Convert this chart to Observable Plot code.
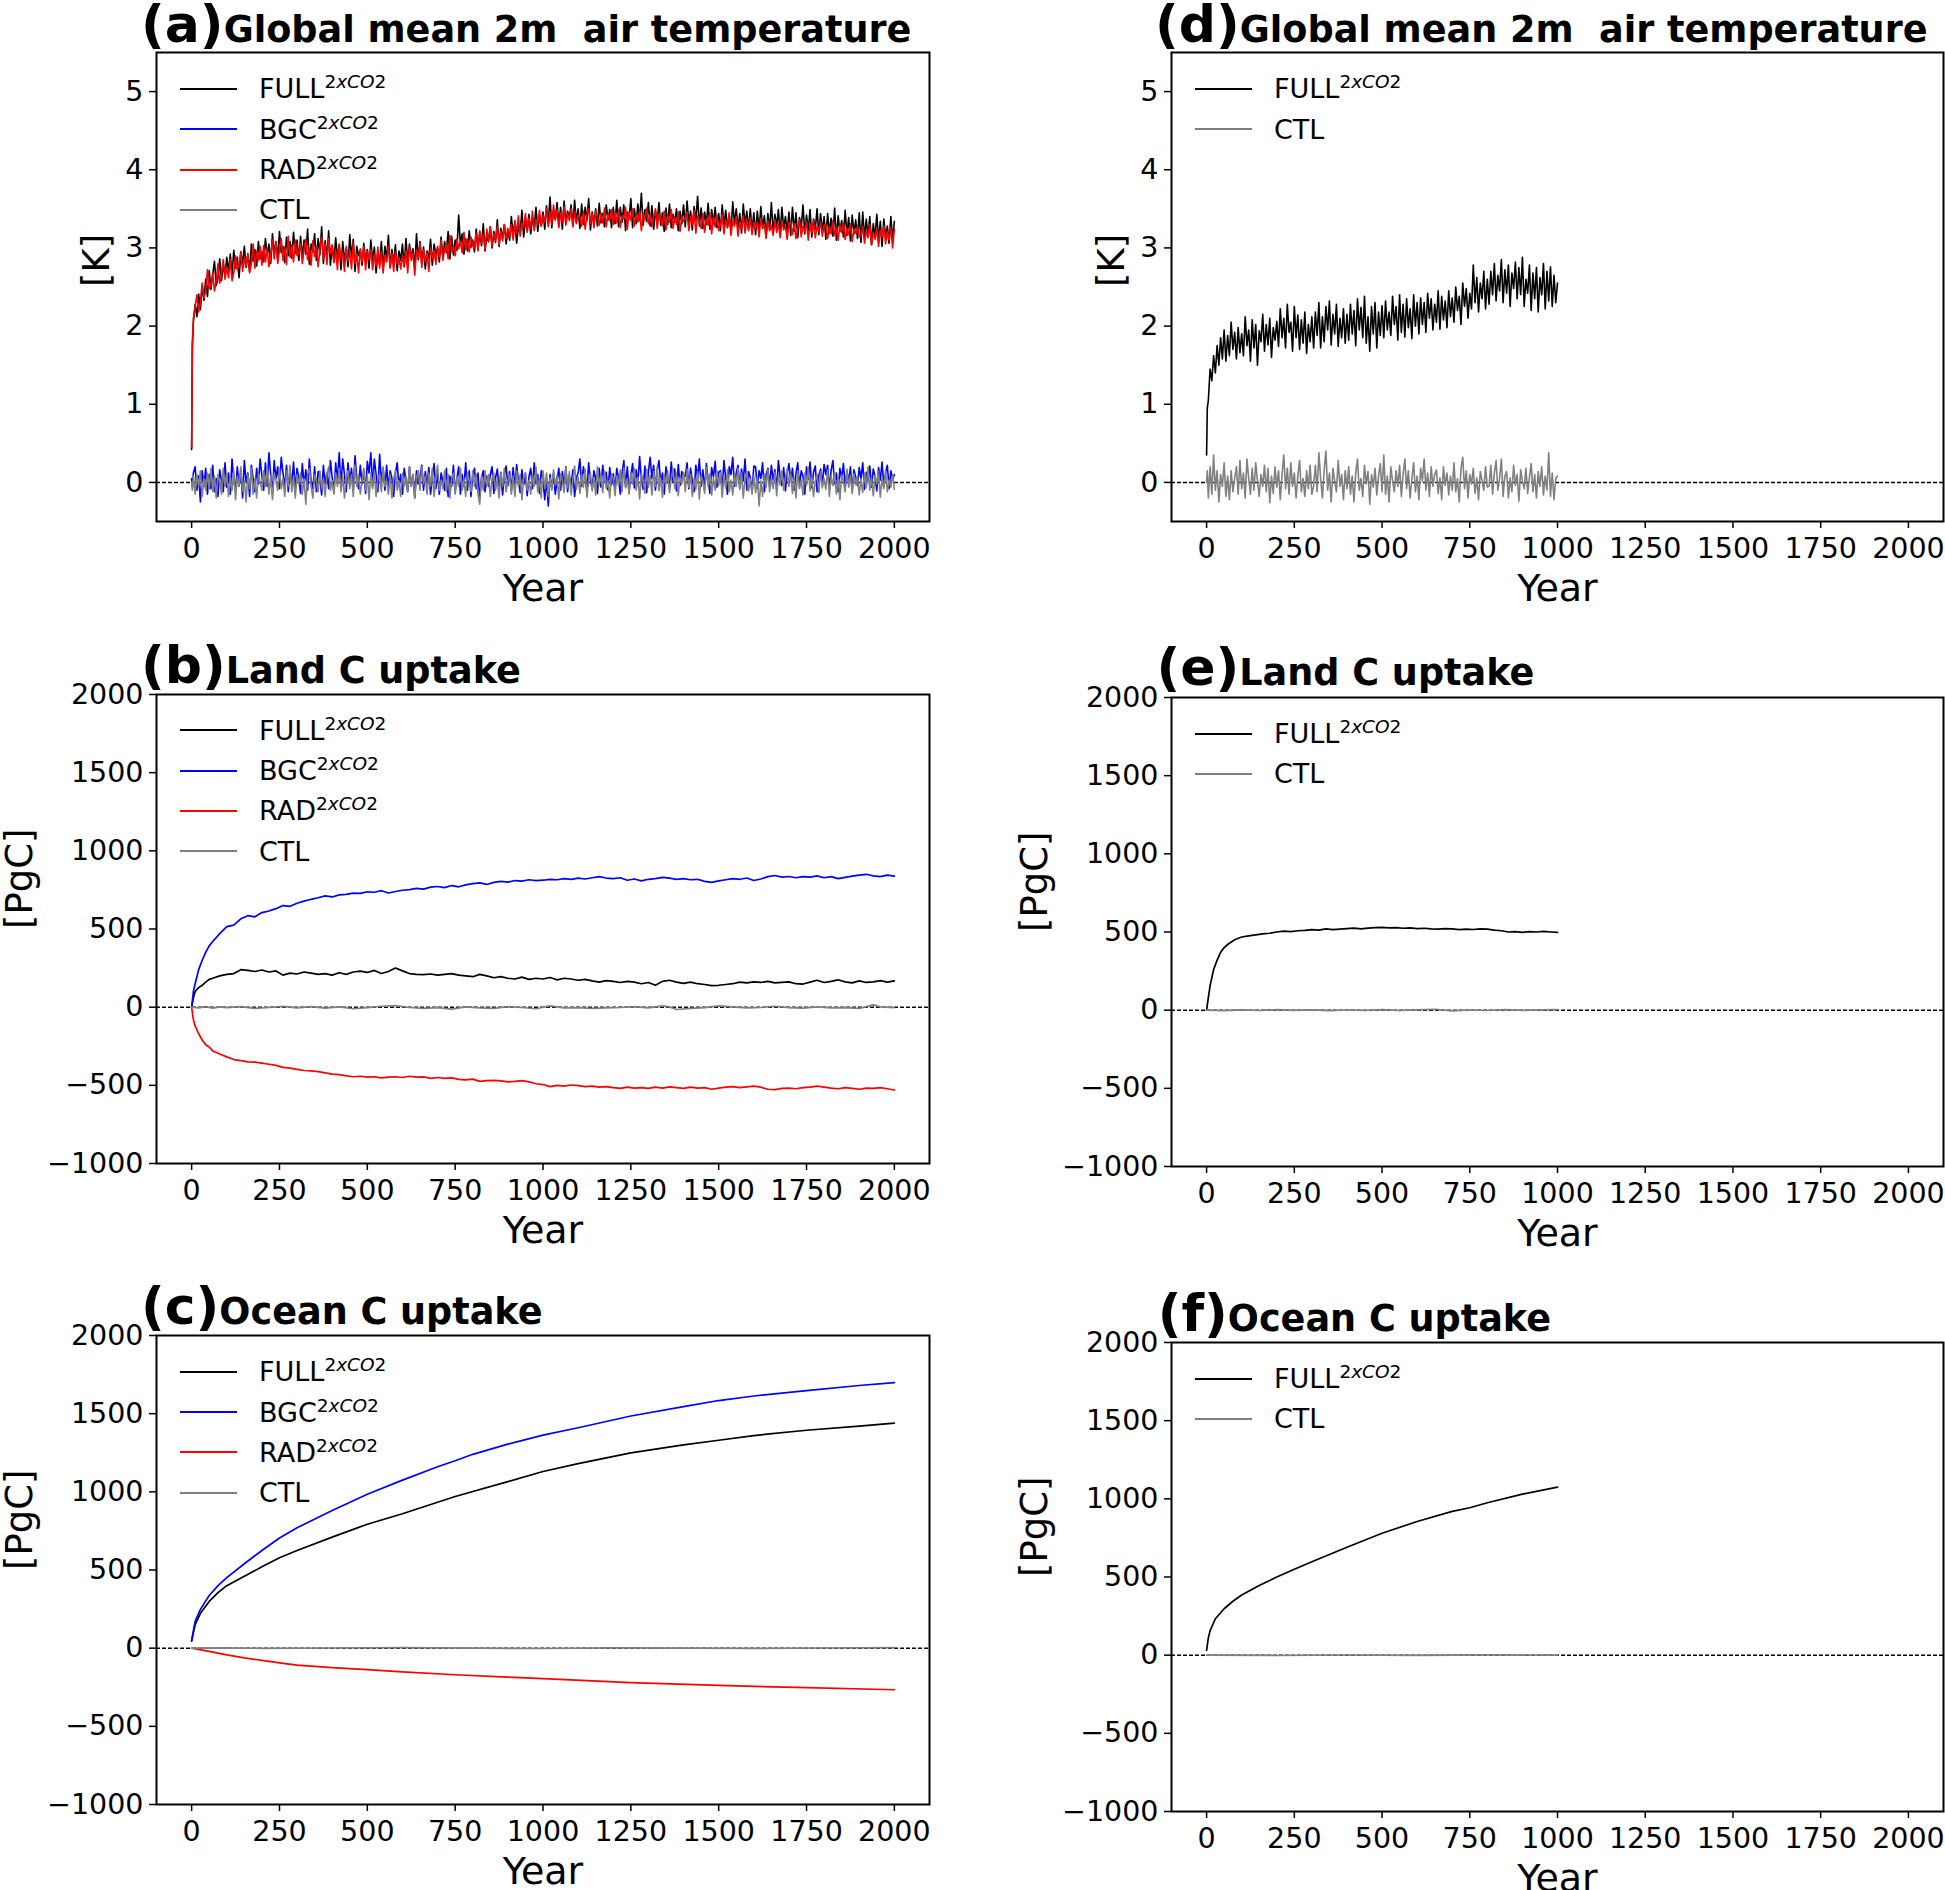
<!DOCTYPE html>
<html><head><meta charset="utf-8">
<script src="https://cdn.jsdelivr.net/npm/d3@7"></script>
<script src="https://cdn.jsdelivr.net/npm/@observablehq/plot@0.6"></script>
<style>
html,body{margin:0;padding:0;background:#fff;}
body{width:1945px;height:1890px;overflow:hidden;position:relative;font-family:"DejaVu Sans";}
.panel{position:absolute;}
.title{position:absolute;white-space:pre;font-weight:bold;font-size:52px;line-height:52px;color:#000;}
.title span{font-size:36.6px;}
.leg{position:absolute;font-size:27px;line-height:27px;white-space:nowrap;color:#000;}
.leg sup{font-size:18.5px;vertical-align:10px;line-height:0;}
.legline{position:absolute;height:2px;}
</style></head>
<body>
<script>
// ---------- tick values ----------
const xTicks = [0, 250, 500, 750, 1000, 1250, 1500, 1750, 2000];
const tempTicks = [0, 1, 2, 3, 4, 5];
const carbonTicks = [-1000, -500, 0, 500, 1000, 1500, 2000];

// ---------- year grids for the temperature series (sampling every 5 years) ----------
const yearsLong = [0, 2, ...d3.range(5, 2001, 5)];
const yearsShort = [0, 2, ...d3.range(5, 1001, 5)];

// ---------- (a) global mean 2m air temperature anomaly [K], 2000 yr ----------
const tempFullA = [0.42, 1.72,
 2.05, 2.28, 2.12, 2.41, 2.21, 2.52, 2.33, 2.60, 2.38, 2.71, 2.47, 2.66, 2.83, 2.52, 2.61, 2.86, 2.58, 2.80, 2.64, 2.88,
 2.70, 2.92, 2.66, 2.97, 2.74, 2.88, 2.62, 2.95, 2.79, 3.02, 2.75, 2.91, 2.70, 3.05, 2.83, 2.98, 2.77, 3.08, 2.86, 2.95,
 2.82, 3.12, 2.90, 3.05, 2.80, 3.18, 2.92, 3.08, 2.85, 3.21, 2.94, 3.02, 2.81, 3.14, 2.90, 3.08, 2.87, 3.20, 2.93, 3.10,
 2.84, 3.15, 2.88, 3.10, 2.92, 3.24, 2.79, 3.05, 2.95, 3.18, 2.84, 3.12, 2.91, 3.27, 2.80, 3.09, 2.86, 3.22, 2.78, 3.03,
 2.82, 3.13, 2.87, 3.04, 2.72, 3.08, 2.84, 2.99, 2.76, 3.17, 2.88, 3.11, 2.70, 3.02, 2.90, 2.97, 2.78, 3.06, 2.82, 2.98,
 2.74, 3.10, 2.83, 3.01, 2.68, 2.95, 2.79, 3.08, 2.73, 3.02, 2.86, 3.16, 2.75, 2.98, 2.80, 3.04, 2.71, 2.96, 2.84, 3.05,
 2.76, 3.12, 2.81, 3.05, 2.88, 2.99, 2.74, 3.18, 2.85, 3.08, 2.80, 3.01, 2.73, 2.96, 2.86, 3.11, 2.78, 3.05, 2.92, 3.00,
 2.82, 3.14, 2.87, 3.08, 2.94, 3.21, 2.86, 3.15, 2.91, 3.10, 2.97, 3.42, 3.04, 3.18, 2.92, 3.12, 2.96, 3.22, 3.01, 3.10,
 2.95, 3.24, 2.98, 3.20, 3.03, 3.31, 2.96, 3.14, 3.08, 3.27, 3.00, 3.21, 3.07, 3.36, 3.02, 3.25, 3.12, 3.30, 3.05, 3.22,
 3.10, 3.40, 3.15, 3.34, 3.06, 3.28, 3.19, 3.48, 3.14, 3.37, 3.22, 3.43, 3.18, 3.38, 3.26, 3.52, 3.21, 3.41, 3.28, 3.46,
 3.24, 3.54, 3.31, 3.65, 3.26, 3.48, 3.36, 3.58, 3.29, 3.52, 3.24, 3.60, 3.33, 3.47, 3.38, 3.55, 3.28, 3.61, 3.33, 3.50,
 3.25, 3.56, 3.30, 3.52, 3.35, 3.63, 3.23, 3.46, 3.30, 3.50, 3.28, 3.57, 3.32, 3.44, 3.27, 3.55, 3.36, 3.49, 3.26, 3.52,
 3.31, 3.61, 3.27, 3.52, 3.33, 3.55, 3.22, 3.46, 3.38, 3.63, 3.26, 3.50, 3.31, 3.56, 3.35, 3.70, 3.29, 3.49, 3.34, 3.58,
 3.28, 3.54, 3.24, 3.48, 3.32, 3.58, 3.29, 3.45, 3.21, 3.51, 3.30, 3.56, 3.26, 3.43, 3.33, 3.50, 3.22, 3.47, 3.31, 3.55,
 3.27, 3.60, 3.32, 3.47, 3.23, 3.53, 3.35, 3.66, 3.28, 3.51, 3.25, 3.46, 3.30, 3.57, 3.24, 3.49, 3.31, 3.52, 3.26, 3.44,
 3.22, 3.55, 3.27, 3.48, 3.26, 3.42, 3.20, 3.59, 3.31, 3.50, 3.25, 3.44, 3.19, 3.56, 3.29, 3.47, 3.24, 3.50, 3.21, 3.45,
 3.17, 3.47, 3.22, 3.53, 3.25, 3.41, 3.14, 3.44, 3.23, 3.58, 3.19, 3.43, 3.28, 3.49, 3.16, 3.52, 3.25, 3.40, 3.20, 3.46,
 3.16, 3.52, 3.21, 3.45, 3.13, 3.39, 3.26, 3.55, 3.18, 3.42, 3.22, 3.49, 3.14, 3.37, 3.24, 3.50, 3.17, 3.44, 3.21, 3.40,
 3.11, 3.44, 3.19, 3.38, 3.15, 3.51, 3.10, 3.41, 3.21, 3.35, 3.14, 3.48, 3.16, 3.39, 3.09, 3.42, 3.18, 3.36, 3.12, 3.45,
 3.07, 3.46, 3.12, 3.37, 3.15, 3.40, 3.04, 3.31, 3.13, 3.43, 3.09, 3.34, 3.02, 3.37, 3.14, 3.28, 3.06, 3.40, 3.10, 3.34];
const tempRadA = [0.45, 1.80,
 2.10, 2.25, 2.40, 2.18, 2.30, 2.55, 2.36, 2.45, 2.72, 2.48, 2.52, 2.68, 2.45, 2.58, 2.80, 2.55, 2.66, 2.85, 2.60, 2.75,
 2.62, 2.85, 2.58, 2.68, 2.90, 2.72, 2.78, 2.95, 2.70, 2.87, 2.76, 2.93, 2.68, 2.80, 3.05, 2.74, 2.96, 2.84, 3.02, 2.78,
 3.03, 2.82, 2.99, 2.76, 2.88, 3.10, 2.86, 3.08, 2.80, 2.97, 3.12, 2.84, 3.01, 2.79, 3.15, 2.88, 3.04, 2.82, 3.10, 2.90,
 2.93, 3.06, 2.80, 2.98, 3.11, 2.85, 3.00, 2.78, 3.09, 2.89, 3.02, 2.76, 2.98, 3.14, 2.86, 3.05, 2.79, 3.12, 2.92, 3.04,
 2.81, 2.97, 2.72, 3.05, 2.86, 2.94, 2.70, 3.02, 2.83, 2.95, 2.73, 3.07, 2.80, 2.92, 2.68, 2.99, 2.82, 3.02, 2.72, 2.96,
 2.85, 2.98, 2.72, 2.92, 2.77, 3.01, 2.74, 2.95, 2.68, 2.90, 2.82, 3.03, 2.74, 2.93, 2.70, 2.95, 2.80, 2.88, 2.73, 2.90,
 2.76, 2.96, 2.68, 3.03, 2.84, 2.93, 2.65, 2.97, 2.87, 3.06, 2.75, 2.98, 2.82, 2.94, 2.70, 3.00, 2.86, 2.97, 2.79, 3.02,
 2.88, 3.10, 2.84, 2.98, 3.05, 2.86, 3.16, 2.95, 3.02, 2.90, 3.12, 2.99, 3.08, 2.94, 3.20, 2.98, 3.11, 2.95, 3.14, 3.02,
 3.00, 3.19, 2.96, 3.22, 3.06, 3.17, 2.98, 3.24, 3.09, 3.27, 3.02, 3.18, 3.10, 3.28, 3.04, 3.21, 3.09, 3.30, 3.12, 3.25,
 3.14, 3.30, 3.10, 3.35, 3.18, 3.41, 3.15, 3.32, 3.26, 3.44, 3.20, 3.38, 3.25, 3.47, 3.22, 3.36, 3.30, 3.48, 3.28, 3.42,
 3.33, 3.51, 3.27, 3.46, 3.30, 3.55, 3.36, 3.48, 3.26, 3.45, 3.32, 3.53, 3.29, 3.44, 3.35, 3.50, 3.27, 3.47, 3.31, 3.42,
 3.39, 3.28, 3.47, 3.24, 3.42, 3.50, 3.31, 3.44, 3.26, 3.48, 3.38, 3.29, 3.45, 3.32, 3.51, 3.27, 3.43, 3.35, 3.49, 3.30,
 3.45, 3.32, 3.49, 3.26, 3.41, 3.37, 3.52, 3.24, 3.46, 3.35, 3.50, 3.28, 3.42, 3.33, 3.47, 3.22, 3.44, 3.36, 3.51, 3.31,
 3.42, 3.27, 3.39, 3.50, 3.25, 3.44, 3.36, 3.28, 3.47, 3.23, 3.41, 3.33, 3.49, 3.25, 3.38, 3.30, 3.46, 3.21, 3.40, 3.34,
 3.38, 3.46, 3.22, 3.40, 3.30, 3.48, 3.19, 3.41, 3.34, 3.25, 3.44, 3.20, 3.37, 3.29, 3.45, 3.18, 3.39, 3.27, 3.42, 3.22,
 3.31, 3.43, 3.18, 3.36, 3.27, 3.45, 3.16, 3.35, 3.28, 3.40, 3.15, 3.34, 3.24, 3.41, 3.19, 3.37, 3.22, 3.39, 3.17, 3.33,
 3.24, 3.33, 3.14, 3.38, 3.26, 3.30, 3.12, 3.35, 3.22, 3.29, 3.16, 3.36, 3.20, 3.31, 3.13, 3.34, 3.23, 3.28, 3.11, 3.32,
 3.33, 3.17, 3.31, 3.12, 3.24, 3.36, 3.14, 3.28, 3.21, 3.34, 3.10, 3.30, 3.19, 3.35, 3.13, 3.27, 3.22, 3.33, 3.15, 3.29,
 3.30, 3.12, 3.27, 3.18, 3.35, 3.16, 3.26, 3.10, 3.29, 3.20, 3.32, 3.11, 3.25, 3.17, 3.31, 3.08, 3.24, 3.19, 3.28, 3.14,
 3.15, 3.27, 3.06, 3.22, 3.13, 3.30, 3.04, 3.20, 3.11, 3.25, 3.02, 3.23, 3.14, 3.28, 3.05, 3.21, 3.10, 3.26, 3.00, 3.24];
const tempBgcA = [0.05, -0.05,
 0.12, 0.20, -0.10, 0.08, -0.25, 0.15, -0.05, 0.18, -0.15, 0.10, -0.08, 0.22, -0.12, 0.05, -0.18, 0.16, 0.02, -0.12, 0.25, -0.06,
 0.12, -0.15, 0.30, 0.02, -0.10, 0.20, -0.05, 0.15, -0.20, 0.28, 0.00, 0.12, -0.18, 0.22, 0.05, -0.12, 0.18, -0.02, 0.30, 0.08,
 -0.10, 0.25, -0.05, 0.38, 0.10, -0.15, 0.28, 0.05, 0.20, -0.08, 0.32, 0.12, -0.06, 0.22, -0.12, 0.15, -0.02, 0.26, -0.10, 0.18,
 0.05, -0.14, 0.24, -0.04, 0.16, -0.10, 0.30, 0.02, -0.08, 0.20, -0.12, 0.14, 0.04, -0.16, 0.22, -0.02, 0.12, -0.08, 0.28, 0.06,
 -0.12, 0.25, 0.02, 0.38, -0.05, 0.30, 0.10, -0.12, 0.25, 0.02, 0.18, -0.10, 0.34, 0.06, -0.08, 0.22, -0.02, 0.16, -0.14, 0.27,
 0.12, 0.38, -0.05, 0.30, 0.10, -0.12, 0.36, 0.02, 0.18, -0.10, 0.22, -0.08, 0.15, 0.05, -0.18, 0.12, 0.25, -0.05, 0.10, -0.15,
 0.18, 0.02, -0.12, 0.20, -0.05, 0.10, -0.20, 0.15, -0.02, 0.08, 0.22, -0.10, 0.14, -0.04, 0.19, -0.15, 0.06, 0.24, -0.08, 0.11,
 -0.15, 0.12, 0.02, -0.10, 0.18, -0.18, 0.08, -0.05, 0.22, -0.12, 0.05, 0.20, -0.15, 0.10, -0.05, 0.25, -0.10, 0.15, -0.18, 0.08,
 0.18, -0.08, 0.12, -0.20, 0.05, 0.15, -0.12, 0.08, -0.05, 0.10, 0.20, -0.14, 0.06, 0.17, -0.09, 0.13, -0.16, 0.09, 0.21, -0.04,
 0.14, -0.11, 0.19, -0.06, 0.23, 0.02, -0.13, 0.16, -0.03, 0.12, -0.17, 0.07, 0.18, -0.08, 0.25, -0.02, 0.10, -0.14, 0.15, 0.03,
 -0.22, 0.05, -0.30, 0.10, -0.08, 0.12, -0.15, 0.02, 0.18, -0.10, 0.14, -0.06, 0.20, -0.12, 0.08, -0.04, 0.16, -0.18, 0.06, 0.12,
 0.30, -0.05, 0.20, 0.08, -0.12, 0.25, 0.02, -0.08, 0.15, 0.05, -0.14, 0.18, -0.06, 0.22, 0.00, 0.13, -0.10, 0.19, -0.03, 0.11,
 -0.10, 0.18, 0.05, -0.15, 0.12, 0.28, -0.05, 0.20, -0.12, 0.08, 0.24, -0.07, 0.16, -0.02, 0.33, 0.04, -0.09, 0.21, -0.13, 0.14,
 0.32, 0.05, 0.22, -0.10, 0.15, 0.28, -0.02, 0.12, -0.15, 0.20, 0.06, -0.08, 0.26, 0.01, 0.17, -0.11, 0.23, -0.04, 0.14, 0.08,
 0.08, 0.25, -0.08, 0.18, 0.02, -0.12, 0.22, 0.05, 0.30, -0.05, 0.16, -0.09, 0.24, 0.03, -0.14, 0.19, 0.07, 0.27, -0.06, 0.13,
 0.15, -0.10, 0.28, 0.05, -0.15, 0.20, 0.10, 0.32, -0.05, 0.12, 0.22, -0.07, 0.17, 0.02, 0.30, -0.10, 0.14, 0.06, -0.12, 0.21,
 0.20, -0.08, 0.15, 0.05, 0.25, -0.12, 0.10, 0.18, -0.05, 0.22, 0.03, 0.16, -0.09, 0.28, 0.06, -0.04, 0.19, -0.11, 0.12, 0.24,
 0.02, 0.18, -0.10, 0.12, 0.25, -0.05, 0.15, 0.08, -0.15, 0.20, 0.04, 0.26, -0.07, 0.13, 0.21, -0.12, 0.09, 0.17, -0.03, 0.23,
 0.10, 0.22, -0.08, 0.15, 0.28, -0.02, 0.12, -0.12, 0.18, 0.05, 0.24, -0.06, 0.14, 0.01, 0.20, -0.10, 0.16, 0.07, -0.04, 0.19,
 0.05, 0.25, -0.09, 0.13, 0.02, 0.21, -0.06, 0.17, 0.08, -0.11, 0.19, 0.03, 0.26, -0.05, 0.12, 0.22, -0.08, 0.15, 0.04, 0.10];
const tempCtlA = [0.00, -0.10,
 0.08, -0.15, 0.10, -0.05, 0.15, -0.18, 0.05, -0.10, 0.12, -0.08, 0.18, -0.12, 0.08, -0.20, 0.10, 0.02, -0.15, 0.18, -0.05, 0.12,
 -0.18, 0.05, -0.10, 0.15, -0.22, 0.08, -0.05, 0.20, -0.12, 0.02, -0.25, 0.10, -0.08, 0.18, -0.15, 0.05, -0.20, 0.12, 0.00, -0.10,
 0.15, -0.05, 0.20, -0.15, 0.08, -0.22, 0.12, 0.02, -0.10, 0.18, -0.08, 0.05, -0.18, 0.15, -0.05, 0.22, -0.12, 0.08, -0.20, 0.10,
 -0.02, 0.12, -0.15, 0.05, -0.28, 0.10, 0.18, -0.05, -0.20, 0.10, 0.02, -0.12, 0.15, -0.08, 0.05, -0.18, 0.10, 0.20, -0.10, 0.02,
 -0.15, 0.12, -0.05, 0.18, -0.12, 0.08, -0.20, 0.05, 0.15, -0.08, 0.10, -0.18, 0.22, -0.05, 0.10, -0.15, 0.02, 0.18, -0.10, 0.08,
 -0.22, 0.12, -0.08, 0.15, -0.18, 0.05, 0.10, -0.12, 0.20, -0.05, 0.02, -0.15, 0.10, -0.20, 0.05, 0.15, -0.10, 0.02, -0.18, 0.12,
 -0.05, 0.08, -0.12, 0.20, -0.05, 0.10, -0.20, 0.05, 0.15, -0.10, 0.20, -0.02, 0.08, -0.15, 0.12, -0.05, 0.18, -0.18, 0.05, 0.22,
 -0.10, 0.02, -0.08, 0.15, -0.12, 0.10, -0.20, 0.05, 0.12, -0.15, 0.08, -0.05, 0.18, -0.10, 0.05, -0.18, 0.12, 0.02, -0.12, 0.15,
 -0.05, 0.10, -0.15, -0.28, 0.08, -0.10, 0.15, -0.05, 0.10, -0.18, 0.05, 0.12, -0.10, 0.05, -0.20, 0.12, -0.05, 0.18, -0.12, 0.02,
 0.10, -0.15, 0.08, -0.18, 0.15, -0.05, 0.10, -0.22, 0.05, 0.12, -0.10, 0.02, -0.15, 0.10, -0.05, 0.20, -0.12, 0.05, -0.20, 0.15,
 -0.08, 0.12, -0.18, 0.06, -0.10, 0.16, -0.04, 0.09, -0.21, 0.11, 0.03, -0.13, 0.19, -0.07, 0.14, -0.16, 0.04, 0.21, -0.09, 0.07,
 -0.14, 0.10, -0.06, 0.17, -0.19, 0.03, 0.12, -0.11, 0.06, -0.16, 0.20, -0.03, 0.09, -0.13, 0.15, -0.08, 0.02, -0.20, 0.11, 0.05,
 -0.17, 0.08, -0.04, 0.16, -0.12, 0.19, -0.07, 0.05, -0.15, 0.13, -0.02, 0.18, -0.10, 0.07, -0.21, 0.12, 0.01, -0.14, 0.17, -0.06,
 0.09, -0.16, 0.14, -0.05, 0.20, -0.11, 0.06, -0.19, 0.10, -0.03, 0.15, -0.13, 0.04, 0.18, -0.08, 0.12, -0.17, 0.07, -0.02, 0.13,
 -0.12, 0.17, -0.06, 0.10, -0.18, 0.05, -0.09, 0.14, -0.21, 0.08, 0.02, -0.14, 0.19, -0.05, 0.11, -0.16, 0.06, -0.10, 0.15, -0.04,
 0.13, -0.19, 0.08, -0.07, 0.16, -0.12, 0.03, -0.16, 0.10, -0.05, 0.18, -0.09, 0.12, -0.20, 0.06, 0.14, -0.11, 0.04, -0.15, 0.09,
 -0.13, 0.07, -0.30, 0.02, -0.18, 0.11, -0.06, 0.16, -0.12, 0.05, -0.08, 0.13, -0.17, 0.09, -0.03, 0.15, -0.10, 0.06, 0.17, -0.05,
 0.11, -0.14, 0.06, -0.20, 0.15, -0.08, 0.03, -0.16, 0.12, -0.04, 0.19, -0.11, 0.07, -0.18, 0.02, 0.10, -0.13, 0.14, -0.07, 0.05,
 -0.09, 0.16, -0.18, 0.08, -0.04, 0.13, -0.15, 0.06, -0.22, 0.10, 0.01, -0.12, 0.17, -0.06, 0.09, -0.14, 0.11, -0.03, 0.07, -0.16,
 0.04, -0.13, 0.12, -0.07, 0.20, -0.10, 0.06, -0.17, 0.09, -0.02, 0.14, -0.19, 0.05, -0.08, 0.15, -0.12, 0.03, -0.06, 0.10, -0.09];

// ---------- (d) global mean 2m air temperature anomaly [K], 1000 yr ----------
const tempFullD = [0.35, 0.95,
 1.05, 1.45, 1.30, 1.62, 1.40, 1.75, 1.50, 1.85, 1.58, 1.95, 1.55, 1.88, 1.62, 2.05, 1.70, 1.92, 1.58, 1.98, 1.66, 1.90,
 1.62, 2.12, 1.75, 1.95, 1.55, 2.08, 1.72, 2.02, 1.50, 1.94, 1.80, 2.15, 1.68, 2.02, 1.76, 2.10, 1.60, 1.98, 1.82, 2.06,
 1.74, 2.22, 1.85, 2.10, 1.72, 2.28, 1.92, 2.05, 1.68, 2.25, 1.85, 2.14, 1.70, 2.08, 1.78, 2.18, 1.65, 2.02, 1.80, 2.12,
 1.72, 2.18, 1.88, 2.30, 1.72, 2.12, 1.80, 2.25, 1.95, 2.32, 1.76, 2.15, 1.90, 2.28, 1.74, 2.10, 1.85, 2.22, 1.78, 2.15,
 1.82, 2.28, 1.90, 2.20, 1.75, 2.35, 1.95, 2.24, 1.85, 2.38, 1.78, 2.12, 1.68, 2.25, 1.90, 2.30, 1.72, 2.18, 1.88, 2.26,
 1.85, 2.32, 1.95, 2.18, 1.88, 2.38, 2.02, 2.25, 1.82, 2.40, 1.92, 2.28, 1.86, 2.35, 1.98, 2.22, 1.84, 2.40, 2.00, 2.30,
 1.90, 2.36, 2.02, 2.30, 1.92, 2.42, 2.10, 2.35, 1.95, 2.28, 2.05, 2.45, 1.96, 2.38, 2.08, 2.32, 1.98, 2.45, 2.12, 2.36,
 2.05, 2.50, 2.20, 2.38, 2.02, 2.55, 2.25, 2.48, 2.10, 2.42, 2.22, 2.78, 2.30, 2.62, 2.18, 2.55, 2.35, 2.70, 2.22, 2.60,
 2.28, 2.70, 2.40, 2.80, 2.32, 2.65, 2.45, 2.85, 2.30, 2.72, 2.42, 2.78, 2.25, 2.68, 2.48, 2.82, 2.35, 2.75, 2.40, 2.88,
 2.25, 2.60, 2.42, 2.78, 2.20, 2.68, 2.35, 2.75, 2.18, 2.62, 2.40, 2.80, 2.22, 2.70, 2.32, 2.76, 2.25, 2.65, 2.30, 2.55];
const tempCtlD = [0.00, 0.15,
 -0.20, 0.20, -0.15, 0.35, -0.10, 0.15, -0.25, 0.10, -0.05, 0.25, -0.18, 0.08, -0.22, 0.15, -0.12, 0.05, 0.20, -0.15, 0.28, -0.08,
 0.12, -0.20, 0.30, 0.05, -0.15, 0.18, -0.10, 0.25, 0.02, -0.18, 0.10, -0.05, 0.22, -0.12, 0.18, -0.26, 0.08, -0.14, 0.20, -0.06,
 0.15, -0.22, 0.10, 0.35, -0.08, 0.18, -0.15, 0.25, -0.05, 0.12, -0.20, 0.08, 0.28, -0.12, 0.05, -0.18, 0.15, -0.08, 0.22, -0.15,
 -0.05, 0.22, -0.12, 0.38, 0.05, -0.20, 0.15, 0.40, -0.10, 0.12, -0.25, 0.18, 0.02, -0.12, 0.28, -0.05, 0.10, -0.22, 0.15, -0.08,
 0.20, -0.15, 0.08, -0.25, 0.12, 0.30, -0.10, 0.05, -0.18, 0.22, -0.02, 0.14, -0.28, 0.10, -0.06, 0.18, -0.16, 0.08, 0.24, -0.12,
 0.35, -0.15, 0.08, -0.25, 0.20, 0.02, -0.12, 0.15, -0.05, 0.22, -0.18, 0.10, 0.30, -0.08, 0.15, -0.20, 0.05, 0.25, -0.12, 0.08,
 -0.22, 0.18, 0.02, 0.30, -0.10, 0.12, -0.18, 0.20, -0.05, 0.10, 0.16, -0.14, 0.06, -0.22, 0.20, -0.04, 0.12, -0.16, 0.08, -0.10,
 0.25, -0.12, 0.05, -0.25, 0.18, 0.32, -0.08, 0.15, -0.20, 0.10, -0.02, 0.18, -0.14, 0.06, -0.22, 0.14, 0.02, -0.10, 0.20, -0.06,
 -0.05, 0.22, -0.15, 0.12, 0.28, -0.10, 0.05, 0.30, -0.18, 0.08, 0.14, -0.20, 0.06, -0.12, 0.22, -0.04, 0.10, -0.24, 0.16, 0.02,
 -0.08, 0.18, -0.14, 0.06, 0.24, -0.12, 0.10, -0.20, 0.14, -0.05, 0.20, -0.16, 0.08, -0.10, 0.38, -0.18, 0.12, -0.22, 0.05, 0.08];

// ---------- (b) land C uptake [year, PgC] ----------
const landBgcB = [[0,0],[5,100],[10,150],[20,240],[30,300],[40,350],[50,392],[60,420],[80,470],[100,515],[120,525],[140,565],[160,585],[180,578],[200,605],[220,615],[240,630],[260,650],[280,645],[300,665],[320,678],[340,690],[360,700],[380,712],[400,705],[420,718],[440,722],[460,730],[480,728],[500,738],[520,735],[540,745],[560,730],[580,740],[600,748],[620,752],[640,760],[660,755],[680,768],[700,772],[720,765],[740,778],[760,770],[780,782],[800,790],[820,795],[840,785],[860,798],[880,805],[900,800],[920,810],[940,806],[960,815],[980,810],[1000,812],[1020,818],[1040,815],[1060,822],[1080,818],[1100,825],[1120,820],[1140,828],[1160,835],[1180,826],[1200,822],[1220,828],[1240,812],[1260,820],[1280,808],[1300,818],[1320,822],[1340,830],[1360,825],[1380,818],[1400,822],[1420,815],[1440,818],[1460,805],[1480,798],[1500,808],[1520,815],[1540,822],[1560,818],[1580,826],[1600,810],[1620,820],[1640,835],[1660,842],[1680,832],[1700,836],[1720,828],[1740,835],[1760,832],[1780,840],[1800,828],[1820,835],[1840,822],[1860,830],[1880,838],[1900,845],[1920,850],[1940,840],[1960,835],[1980,845],[2000,838]];
const landFullB = [[0,0],[5,60],[10,100],[20,125],[30,140],[40,160],[50,178],[60,185],[80,200],[100,210],[120,215],[140,240],[160,235],[180,228],[200,238],[220,225],[240,232],[260,205],[280,218],[300,212],[320,225],[340,218],[360,210],[380,215],[400,205],[420,220],[440,210],[460,225],[480,230],[500,222],[520,235],[540,215],[560,228],[580,250],[600,232],[620,215],[640,210],[660,208],[680,212],[700,205],[720,210],[740,215],[760,205],[780,200],[800,195],[820,210],[840,200],[860,188],[880,195],[900,185],[920,180],[940,192],[960,178],[980,185],[1000,180],[1020,190],[1040,175],[1060,185],[1080,180],[1100,172],[1120,178],[1140,168],[1160,160],[1180,170],[1200,165],[1220,158],[1240,165],[1260,160],[1280,150],[1300,158],[1320,140],[1340,165],[1360,172],[1380,160],[1400,152],[1420,160],[1440,150],[1460,145],[1480,138],[1500,140],[1520,145],[1540,150],[1560,160],[1580,155],[1600,162],[1620,158],[1640,165],[1660,155],[1680,158],[1700,162],[1720,150],[1740,148],[1760,160],[1780,172],[1800,158],[1820,165],[1840,175],[1860,162],[1880,155],[1900,168],[1920,158],[1940,162],[1960,170],[1980,160],[2000,168]];
const landRadB = [[0,0],[5,-80],[10,-120],[20,-170],[30,-210],[40,-240],[50,-255],[60,-280],[80,-300],[100,-318],[120,-335],[140,-342],[160,-350],[180,-352],[200,-358],[220,-365],[240,-372],[260,-385],[280,-390],[300,-398],[320,-405],[340,-408],[360,-412],[380,-420],[400,-428],[420,-432],[440,-440],[460,-445],[480,-442],[500,-448],[520,-445],[540,-452],[560,-448],[580,-445],[600,-450],[620,-442],[640,-448],[660,-446],[680,-455],[700,-450],[720,-455],[740,-452],[760,-462],[780,-465],[800,-460],[820,-475],[840,-470],[860,-468],[880,-472],[900,-478],[920,-475],[940,-470],[960,-478],[980,-490],[1000,-495],[1020,-508],[1040,-500],[1060,-505],[1080,-498],[1100,-502],[1120,-508],[1140,-505],[1160,-512],[1180,-508],[1200,-515],[1220,-520],[1240,-512],[1260,-518],[1280,-515],[1300,-520],[1320,-512],[1340,-518],[1360,-510],[1380,-515],[1400,-520],[1420,-512],[1440,-518],[1460,-515],[1480,-525],[1500,-518],[1520,-512],[1540,-508],[1560,-515],[1580,-510],[1600,-505],[1620,-512],[1640,-525],[1660,-528],[1680,-520],[1700,-518],[1720,-522],[1740,-515],[1760,-512],[1780,-505],[1800,-512],[1820,-518],[1840,-522],[1860,-515],[1880,-520],[1900,-525],[1920,-518],[1940,-520],[1960,-515],[1980,-522],[2000,-530]];
const landCtlB = [[0,0],[20,-5],[40,3],[60,-6],[80,2],[100,-3],[140,4],[180,-8],[220,-2],[260,5],[300,-4],[340,3],[380,-6],[420,2],[460,-10],[500,-3],[540,6],[580,10],[620,-2],[660,-8],[700,-3],[740,-12],[780,2],[820,-5],[860,-8],[900,3],[940,-2],[980,-10],[1020,8],[1060,-5],[1100,-3],[1140,-8],[1180,-4],[1220,-2],[1260,3],[1300,-5],[1340,8],[1360,2],[1380,-15],[1420,-8],[1460,-3],[1500,8],[1540,2],[1580,-5],[1620,-2],[1660,6],[1700,-3],[1740,-6],[1780,2],[1820,-4],[1860,-3],[1900,-8],[1940,15],[1960,2],[2000,-3]];

// ---------- (e) land C uptake, 1000 yr ----------
const landFullE = [[0,0],[5,80],[10,157],[20,260],[30,320],[40,370],[50,400],[60,420],[80,450],[100,468],[120,475],[140,482],[160,488],[180,492],[200,500],[220,505],[240,502],[260,508],[280,510],[300,515],[320,512],[340,520],[360,515],[380,518],[400,522],[420,525],[440,520],[460,525],[480,528],[500,530],[520,526],[540,528],[560,524],[580,526],[600,522],[620,524],[640,520],[660,518],[680,522],[700,520],[720,515],[740,518],[760,516],[780,520],[800,518],[820,512],[840,508],[860,500],[880,502],[900,498],[920,502],[940,500],[960,504],[980,500],[1000,497]];
const landCtlE = [[0,0],[50,-3],[100,2],[150,-2],[200,3],[250,-1],[300,2],[350,-3],[400,1],[450,-2],[500,4],[550,-2],[600,2],[650,6],[700,-4],[750,1],[800,-2],[850,3],[900,-1],[950,2],[1000,4]];

// ---------- (c) ocean C uptake, 2000 yr ----------
const oceanBgcC = [[0,46],[5,110],[10,172],[25,248],[50,337],[75,400],[100,451],[150,540],[200,625],[250,705],[300,770],[400,880],[500,985],[600,1075],[700,1160],[750,1199],[800,1240],[900,1305],[1000,1363],[1100,1410],[1250,1485],[1400,1545],[1500,1584],[1600,1613],[1750,1647],[1900,1680],[2000,1698]];
const oceanFullC = [[0,46],[5,100],[10,150],[25,223],[50,299],[75,355],[100,400],[150,460],[200,520],[250,578],[300,625],[400,710],[500,793],[600,860],[750,970],[900,1065],[1000,1130],[1100,1180],[1250,1249],[1400,1300],[1500,1330],[1600,1360],[1750,1394],[1900,1420],[2000,1439]];
const oceanRadC = [[0,0],[50,-20],[100,-43],[150,-62],[200,-78],[250,-94],[300,-108],[400,-125],[500,-137],[600,-152],[750,-170],[900,-185],[1000,-195],[1250,-220],[1500,-238],[1750,-253],[2000,-266]];
const oceanCtlC = [[0,0],[100,2],[200,-1],[400,1],[600,3],[800,0],[1000,-2],[1200,2],[1400,0],[1600,-1],[1800,1],[2000,3]];

// ---------- (f) ocean C uptake, 1000 yr ----------
const oceanFullF = [[0,30],[5,110],[10,157],[25,233],[50,297],[75,345],[100,385],[150,445],[200,500],[250,550],[300,598],[400,690],[500,780],[600,855],[700,920],[750,943],[800,975],[900,1030],[1000,1075]];
const oceanCtlF = [[0,0],[200,-2],[400,1],[600,-1],[800,2],[1000,0]];

// ---------- helpers ----------
const fromGrid = (yrs, vals) => vals.map((v, i) => ({year: yrs[i], value: v})).filter(d => d.year != null);
const fromPairs = (pairs) => pairs.map(([year, value]) => ({year, value}));

const COLORS = {FULL: "#000000", BGC: "#0000ff", RAD: "#ff0000", CTL: "#808080"};
const SUP = "2<i>xCO</i>2";
const fmt = d3.format("d");
const TICK_FS = 28.5;

const panels = [
  {letter: "(a)", title: "Global mean 2m  air temperature", left: 0, top: 52.4, ml: 156, fw: 773, yDomain: [-0.5, 5.5], yTicks: tempTicks, ylabel: "[K]", ylabelDx: -59,
   titleLeft: 141, titleBase: 41.5, lw: 1.6,
   series: [["FULL", fromGrid(yearsLong, tempFullA)], ["BGC", fromGrid(yearsLong, tempBgcA)], ["RAD", fromGrid(yearsLong, tempRadA)], ["CTL", fromGrid(yearsLong, tempCtlA)]]},
  {letter: "(b)", title: "Land C uptake", left: 0, top: 693.6, ml: 156, fw: 773, yDomain: [-1000, 2000], yTicks: carbonTicks, ylabel: "[PgC]", ylabelDx: -136,
   titleLeft: 141, titleBase: 682.6, lw: 1.7,
   series: [["FULL", fromPairs(landFullB)], ["BGC", fromPairs(landBgcB)], ["RAD", fromPairs(landRadB)], ["CTL", fromPairs(landCtlB)]]},
  {letter: "(c)", title: "Ocean C uptake", left: 0, top: 1335.2, ml: 156, fw: 773, yDomain: [-1000, 2000], yTicks: carbonTicks, ylabel: "[PgC]", ylabelDx: -136,
   titleLeft: 141, titleBase: 1324, lw: 1.7,
   series: [["FULL", fromPairs(oceanFullC)], ["BGC", fromPairs(oceanBgcC)], ["RAD", fromPairs(oceanRadC)], ["CTL", fromPairs(oceanCtlC)]]},
  {letter: "(d)", title: "Global mean 2m  air temperature", left: 1000, top: 52.4, ml: 171, fw: 772, yDomain: [-0.5, 5.5], yTicks: tempTicks, ylabel: "[K]", ylabelDx: -59,
   titleLeft: 1155, titleBase: 41.5, lw: 1.6,
   series: [["FULL", fromGrid(yearsShort, tempFullD)], ["CTL", fromGrid(yearsShort, tempCtlD)]]},
  {letter: "(e)", title: "Land C uptake", left: 1000, top: 697, ml: 171, fw: 772, yDomain: [-1000, 2000], yTicks: carbonTicks, ylabel: "[PgC]", ylabelDx: -136,
   titleLeft: 1156.5, titleBase: 685.4, lw: 1.7,
   series: [["FULL", fromPairs(landFullE)], ["CTL", fromPairs(landCtlE)]]},
  {letter: "(f)", title: "Ocean C uptake", left: 1000, top: 1342, ml: 171, fw: 772, yDomain: [-1000, 2000], yTicks: carbonTicks, ylabel: "[PgC]", ylabelDx: -136,
   titleLeft: 1157.7, titleBase: 1331, lw: 1.7,
   series: [["FULL", fromPairs(oceanFullF)], ["CTL", fromPairs(oceanCtlF)]]}
];

const FH = 469, MT = 20, MB = 95;

for (const p of panels) {
  const mr = p.left === 0 ? 40 : 2;
  const svg = Plot.plot({
    width: p.ml + p.fw + mr,
    height: MT + FH + MB,
    marginLeft: p.ml, marginRight: mr, marginTop: MT, marginBottom: MB,
    style: {fontFamily: "DejaVu Sans", fontSize: TICK_FS + "px", overflow: "visible", background: "transparent", maxWidth: "none", color: "black"},
    x: {domain: [-100, 2100]},
    y: {domain: p.yDomain},
    marks: [
      Plot.ruleY([0], {stroke: "black", strokeWidth: 1.5, strokeDasharray: "4,2"}),
      ...p.series.map(([name, data]) => Plot.line(data, {x: "year", y: "value", stroke: COLORS[name], strokeWidth: p.lw})),
      Plot.frame({stroke: "black", strokeWidth: 2}),
      Plot.axisX(xTicks, {tickSize: 7, tickPadding: 9, fontSize: TICK_FS, strokeWidth: 1.5, label: null, tickFormat: fmt}),
      Plot.axisY(p.yTicks, {tickSize: 7, tickPadding: 6, fontSize: TICK_FS, strokeWidth: 1.5, label: null, tickFormat: fmt}),
      Plot.text([p.ylabel], {frameAnchor: "left", rotate: -90, dx: p.ylabelDx, fontSize: 37, lineAnchor: "middle"}),
      Plot.text(["Year"], {frameAnchor: "bottom", dy: 79, fontSize: 38, lineAnchor: "bottom"})
    ]
  });
  const wrap = document.createElement("div");
  wrap.className = "panel";
  wrap.style.left = p.left + "px";
  wrap.style.top = (p.top - MT) + "px";
  wrap.appendChild(svg);
  document.body.appendChild(wrap);

  // title
  const t = document.createElement("div");
  t.className = "title";
  t.style.left = p.titleLeft + "px";
  t.style.top = (p.titleBase - 0.846 * 52) + "px";
  t.innerHTML = p.letter + "<span>" + p.title + "</span>";
  document.body.appendChild(t);

  // legend
  const fl = p.left + p.ml;
  p.series.forEach(([name], i) => {
    const ly = p.top + 36.6 + i * 40.3;
    const ln = document.createElement("div");
    ln.className = "legline";
    ln.style.left = (fl + 24) + "px";
    ln.style.width = "57px";
    ln.style.top = (ly - 1) + "px";
    ln.style.background = COLORS[name];
    document.body.appendChild(ln);
    const lb = document.createElement("div");
    lb.className = "leg";
    lb.style.left = (fl + 103) + "px";
    lb.style.top = (ly - 13.6) + "px";
    lb.innerHTML = name === "CTL" ? name : name + "<sup>" + SUP + "</sup>";
    document.body.appendChild(lb);
  });
}
</script>
</body></html>
